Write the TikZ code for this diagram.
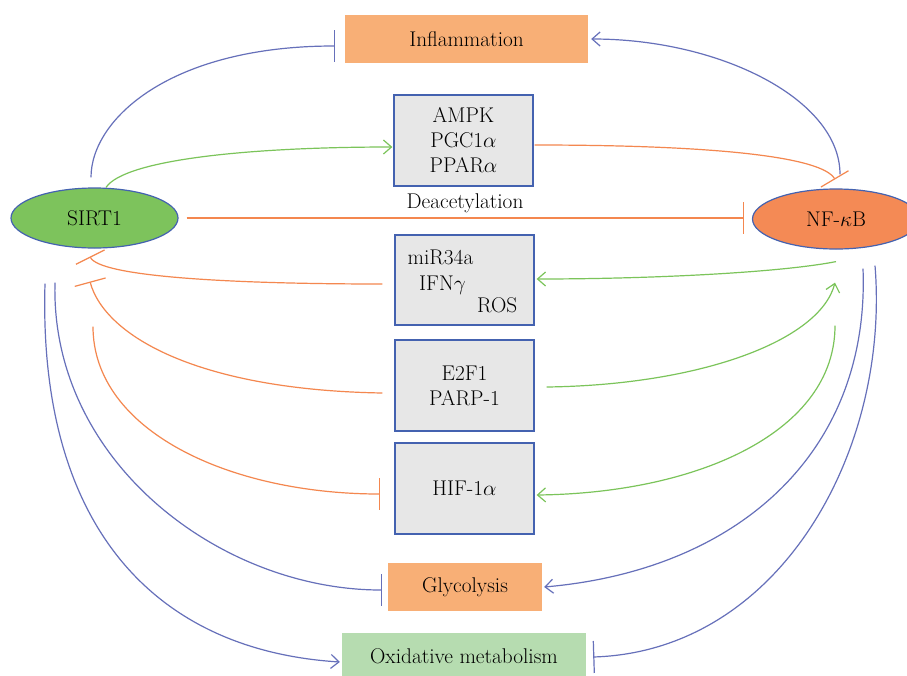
\RequirePackage{fix-cm}
\documentclass[tikz,border=0pt]{standalone}
\usepackage{fontspec}
\usetikzlibrary{arrows.meta,shapes.geometric,calc}
\definecolor{lblue}{HTML}{6670BA}
\definecolor{lorange}{HTML}{F4874F}
\definecolor{lgreen}{HTML}{7BC45A}
\definecolor{nodeblue}{HTML}{4462B0}
\definecolor{boxgray}{HTML}{E7E7E7}
\definecolor{boxorange}{HTML}{F8AF76}
\definecolor{sirtgreen}{HTML}{7DC35C}
\definecolor{nforange}{HTML}{F48A55}
\definecolor{oxigreen}{HTML}{B6DCB0}
\begin{document}
\begin{tikzpicture}[x=1pt,y=-1pt,
  every node/.style={font=\fontsize{21.3}{25}\selectfont},
  graybox/.style={draw=nodeblue, line width=1.3pt, fill=boxgray, minimum width=139pt, minimum height=91pt, align=center, inner sep=0pt},
  flatbox/.style={fill=#1, minimum height=48pt, inner sep=0pt},
  oval/.style={ellipse, draw=nodeblue, line width=1.2pt, fill=#1, minimum width=167pt, minimum height=60pt, inner sep=0pt},
  inh/.style={-{Bar[width=32pt]}},
  act/.style={-{Straight Barb[length=8pt,width=14pt]}},
  bl/.style={draw=lblue, line width=1.2pt},
  og/.style={draw=lorange, line width=1.2pt},
  gr/.style={draw=lgreen, line width=1.2pt},
]
\clip (0,0) rectangle (907,675);
\fill[white] (0,0) rectangle (907,675);

% nodes
\node[flatbox=boxorange, minimum width=243pt] (infl) at (466.5,39) {Inflammation};
\node[graybox] (ampk) at (463.5,140.5) {AMPK\\PGC1$\alpha$\\PPAR$\alpha$};
\node[graybox, minimum height=90pt] (mir) at (464.5,280) {};
\node[anchor=base west, inner sep=0pt] (mirt) at (407.5,264) {miR34a};
\node[anchor=base west, inner sep=0pt] (ifnt) at (419,290) {IFN$\gamma$};
\node[anchor=base west, inner sep=0pt] (rost) at (477,312) {ROS};
\node[graybox] (e2f) at (464.5,385.5) {E2F1\\PARP-1};
\node[graybox] (hif) at (464.5,488.5) {HIF-1$\alpha$};
\node[flatbox=boxorange, minimum width=154pt] (gly) at (465,587) {Glycolysis};
\node[flatbox=oxigreen, minimum width=244pt, minimum height=46pt] (oxi) at (464,656) {Oxidative metabolism};
\node[oval=sirtgreen] (sirt) at (94.5,218) {SIRT1};
\node[oval=nforange] (nfkb) at (836,219) {NF-$\kappa$B};
\node (deac) at (465,203) {Deacetylation};

% connectors
\draw[bl,inh] ($(sirt.north)+(-3.5,-10)$) .. controls +(0,-58) and +(-165,0) .. ($(infl.west)+(-10,7)$);
\draw[bl,act] ($(nfkb.north)+(4,-14)$) .. controls +(0,-75) and +(129,0) .. ($(infl.east)+(3,0)$);
\draw[gr,act] ($(sirt.north)+(11.5,0)$) .. controls +(19,-28) and +(-142,0) .. ($(ampk.west)+(-1,6.5)$);
\draw[og,inh] ($(ampk.east)+(1,4.5)$) .. controls +(186,0) and +(-13,-22) .. ($(nfkb.north)+(-1,-9)$);
\draw[og,inh] ($(sirt.east)+(8,0)$) -- ($(nfkb.west)+(-8,-1)$);
\draw[og,inh] ($(mir.west)+(-12,4)$) .. controls +(-153,0) and +(10,20) .. ($(sirt.south)+(-4.5,8)$);
\draw[og,inh] ($(e2f.west)+(-12,7.5)$) .. controls +(-183,-3) and +(15,55) .. ($(sirt.south)+(-4.5,33)$);
\draw[og,inh] ($(sirt.south)+(-1.5,78)$) .. controls +(0,104) and +(-151,0) .. ($(hif.west)+(-14,5.5)$);
\draw[gr,act] ($(nfkb.south)+(0,12)$) .. controls +(-56,11) and +(114,0) .. ($(mir.east)+(2,-1)$);
\draw[gr,act] ($(e2f.east)+(12,1.5)$) .. controls +(154,-2) and +(-15,58) .. ($(nfkb.south)+(-1,33)$);
\draw[gr,act] ($(nfkb.south)+(-1,76)$) .. controls +(0,105) and +(164,-2) .. ($(hif.east)+(2,6.5)$);
\draw[bl,inh] ($(sirt.south)+(-39.5,34)$) .. controls +(-5,178) and +(-162,0) .. ($(gly.west)+(-6,3)$);
\draw[bl,act] ($(sirt.south)+(-49.5,35)$) .. controls +(-7,237) and +(-190,-12) .. ($(oxi.west)+(-2,6)$);
\draw[bl,act] ($(nfkb.south)+(27,19)$) .. controls +(7,182) and +(196,-17) .. ($(gly.east)+(2,0)$);
\draw[bl,inh] ($(nfkb.south)+(39,16)$) .. controls +(15,185) and +(187,-6) .. ($(oxi.east)+(7,1)$);
\end{tikzpicture}
\end{document}
